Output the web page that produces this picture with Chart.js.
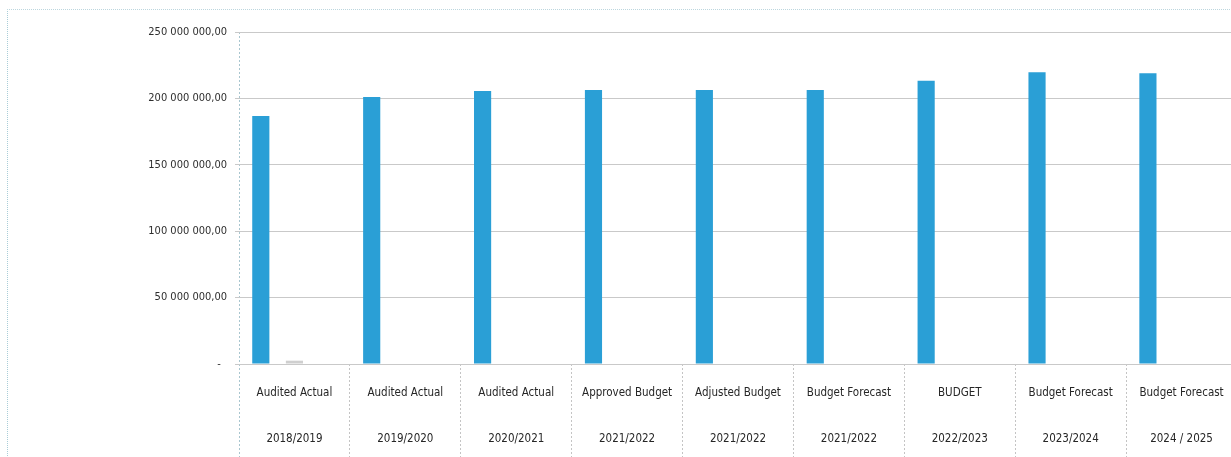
<!DOCTYPE html>
<html>
<head>
<meta charset="utf-8">
<script src="https://cdn.jsdelivr.net/npm/chart.js@4"></script>
<style>
  html, body { margin: 0; padding: 0; background: #fff; overflow: hidden; }
  .wrap { position: relative; width: 1231px; height: 457px; overflow: hidden; }
  .frame { position: absolute; left: 7px; top: 9px; width: 1400px; height: 600px; border-left: 1px dotted #a9cdd8; border-top: 1px dotted #bcd6de; }
  canvas { position: absolute; left: 0; top: 0; }
</style>
</head>
<body>
<div class="wrap">
  <div class="frame"></div>
  <canvas id="budgetChart" width="1237" height="457"></canvas>
</div>
<script>
// categories (two line labels)
const periods = ['Audited Actual', 'Audited Actual', 'Audited Actual', 'Approved Budget', 'Adjusted Budget', 'Budget Forecast', 'BUDGET', 'Budget Forecast', 'Budget Forecast']
const years = ['2018/2019', '2019/2020', '2020/2021', '2021/2022', '2021/2022', '2021/2022', '2022/2023', '2023/2024', '2024 / 2025']

// series values
const operating = [186700000, 201000000, 205600000, 206300000, 206300000, 206300000, 213300000, 219600000, 218900000]
const other = [2500000, 0, 0, 0, 0, 0, 0, 0, 0]
const spare = [0, 0, 0, 0, 0, 0, 0, 0, 0]

// y axis ticks
const yMax = 250000000
const yStep = 50000000

const labels = periods.map((p, i) => [p, years[i]])

function formatAmount(v) {
    if (v === 0) return '-  '
    return String(v).replace(/\B(?=(\d{3})+(?!\d))/g, ' ') + ',00'
}

const fontFamily = "'Liberation Sans Narrow', 'DejaVu Sans Condensed', sans-serif"
const AXIS_BLUE = '#a9c6cf'
const SEP_GREY = '#c4c4c4'

const ctx = document.getElementById('budgetChart').getContext('2d')
const chart = new Chart(ctx, {
    type: 'bar',
    data: {
        labels: labels,
        datasets: [{
            label: 'Series 1',
            data: operating,
            backgroundColor: '#2a9fd6',
            categoryPercentage: 0.91,
            barPercentage: 0.51
        }, {
            label: 'Series 2',
            data: other,
            backgroundColor: '#cfcfcf',
            categoryPercentage: 0.91,
            barPercentage: 0.51
        }, {
            label: 'Series 3',
            data: spare,
            backgroundColor: '#e8a33c',
            categoryPercentage: 0.91,
            barPercentage: 0.51
        }]
    },
    options: {
        responsive: false,
        animation: false,
        layout: { padding: { left: 0, top: 32, right: 0, bottom: 0 } },
        plugins: {
            legend: { display: false },
            tooltip: { enabled: false }
        },
        scales: {
            x: {
                // separators between the categories run down through the label area,
                // the first one doubles as the dotted y axis line
                grid: {
                    offset: true,
                    drawOnChartArea: true,
                    drawTicks: true,
                    tickLength: 93,
                    color: c => c.index === 0 ? AXIS_BLUE : 'rgba(0,0,0,0)',
                    tickColor: c => c.index === 0 ? AXIS_BLUE : SEP_GREY,
                    tickBorderDash: [2, 2]
                },
                border: { display: false, dash: [2, 2] },
                afterFit: function (scale) { scale.height = 93 },
                ticks: {
                    maxRotation: 0,
                    autoSkip: false,
                    padding: -87,
                    color: '#262626',
                    font: { family: fontFamily, size: 11.5, lineHeight: 4 }
                }
            },
            y: {
                min: 0,
                max: yMax,
                afterFit: function (scale) { scale.width = 239 },
                grid: {
                    color: '#c9c9c9',
                    tickLength: 4
                },
                border: { display: false },
                ticks: {
                    stepSize: yStep,
                    padding: 8,
                    color: '#2e2e2e',
                    font: { family: fontFamily, size: 11 },
                    callback: v => formatAmount(v)
                }
            }
        }
    }
})
</script>
</body>
</html>
